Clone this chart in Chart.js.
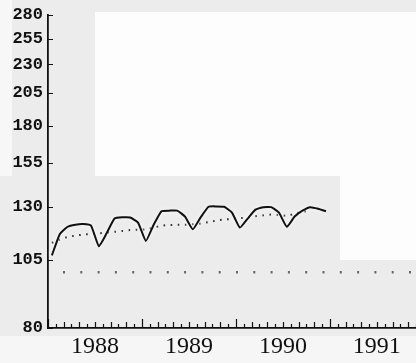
<!DOCTYPE html>
<html>
<head>
<meta charset="utf-8">
<script src="https://cdn.jsdelivr.net/npm/chart.js@4/dist/chart.umd.min.js"></script>
<style>
  html, body { margin: 0; padding: 0; overflow: hidden; }
  #wrap { position: relative; width: 416px; height: 363px; background: #ececec; }
  .patch { position: absolute; }
  #chart { position: absolute; left: 0; top: 0; }
</style>
</head>
<body>
<div id="wrap">
  <!-- scan shading behind the chart -->
  <div class="patch" style="left:0;top:0;width:12px;height:176px;background:#f7f7f7"></div>
  <div class="patch" style="left:95px;top:12px;width:321px;height:164px;background:#fdfdfd"></div>
  <div class="patch" style="left:340px;top:12px;width:76px;height:248px;background:#fdfdfd"></div>
  <div class="patch" style="left:0;top:336px;width:416px;height:27px;background:#f6f6f6"></div>
  <canvas id="chart" width="416" height="363"></canvas>
</div>
<script>
// x axis: months from Jan 1988, years labelled in the middle of each year
let years = ['1988', '1989', '1990', '1991'];
let monthsShown = 47;

// monthly index, Jan 1988 .. Dec 1990
let actual = [107, 116.5, 120, 121, 121.3, 120.5, 111, 117, 124, 124.6, 124.5, 122,
              113.4, 121, 127.7, 128, 128, 125, 118.8, 124.6, 130, 130.2, 130, 127,
              119.6, 124, 128.5, 129.8, 129.8, 127, 120, 125, 128, 129.8, 129, 127.7];

// trend line
let trend = [112.5, 114, 115.2, 115.8, 116.3, 116.6, 116.9, 117.2, 117.6, 118, 118.4, 118.6,
             118.8, 119.6, 120.5, 120.8, 121, 121, 121.2, 121.6, 122.3, 123, 123.5, 123.8,
             124.2, 124.6, 125.2, 125.6, 126, 125.8, 125.4, 126.4, 127.4, 128];

let baseLevel = 100;
let yTicks = [80, 105, 130, 155, 180, 205, 230, 255, 280];

function toPoints(values) {
    return values.map((v, i) => ({ x: i + 0.5, y: v }));
}

// white halo round the lines, like the scanned original
let haloPlugin = {
    id: 'halo',
    beforeDatasetDraw(chart) {
        let ctx = chart.ctx;
        ctx.save();
        ctx.shadowColor = 'rgba(255,255,255,0.95)';
        ctx.shadowBlur = 4;
    },
    afterDatasetDraw(chart) {
        chart.ctx.restore();
    }
};

// ticks drawn on the inside of both axes
let innerTicks = {
    id: 'innerTicks',
    afterDraw(chart) {
        let ctx = chart.ctx;
        let xs = chart.scales.x;
        let ys = chart.scales.y;
        let bottom = chart.chartArea.bottom;
        let left = chart.chartArea.left;
        ctx.save();
        ctx.strokeStyle = '#111';
        ctx.lineWidth = 1.2;
        ctx.beginPath();
        for (let m = 0; m <= monthsShown; m++) {
            let px = Math.round(xs.getPixelForValue(m)) + 0.5;
            let len = m % 12 == 0 ? 9 : (m % 2 == 0 ? 6 : 4);
            ctx.moveTo(px, bottom);
            ctx.lineTo(px, bottom - len);
        }
        yTicks.forEach(v => {
            let py = Math.round(ys.getPixelForValue(v)) + 0.5;
            ctx.moveTo(left, py);
            ctx.lineTo(left + 5, py);
        });
        ctx.stroke();
        ctx.restore();
    }
};

let ctx = document.getElementById('chart').getContext('2d');
let chart = new Chart(ctx, {
    type: 'line',
    data: {
        datasets: [{
            data: toPoints(actual),
            borderColor: '#111',
            borderWidth: 2,
            pointRadius: 0,
            tension: 0.15
        }, {
            data: toPoints(trend),
            borderColor: '#333',
            borderWidth: 2,
            borderDash: [1.6, 5.5],
            pointRadius: 0,
            tension: 0.3
        }, {
            data: [{ x: 0, y: baseLevel }, { x: monthsShown, y: baseLevel }],
            borderColor: '#666',
            borderWidth: 2.4,
            borderDash: [2, 15.3],
            borderDashOffset: 2.3,
            pointRadius: 0
        }]
    },
    options: {
        responsive: false,
        animation: false,
        layout: { padding: { top: 12, right: 0, left: 0, bottom: 0 } },
        plugins: {
            legend: { display: false },
            tooltip: { enabled: false }
        },
        scales: {
            x: {
                type: 'linear',
                min: 0,
                max: monthsShown,
                grid: { display: false, drawTicks: false },
                border: { display: true, color: '#111', width: 1.8 },
                afterBuildTicks: (scale) => {
                    scale.ticks = years.map((y, i) => ({ value: i * 12 + 6 }));
                },
                afterFit: (scale) => { scale.height = 35; },
                ticks: {
                    autoSkip: false,
                    maxRotation: 0,
                    padding: 4,
                    color: '#111',
                    font: { family: 'Liberation Serif', size: 24 },
                    callback: (v) => years[Math.round((v - 6) / 12)]
                }
            },
            y: {
                type: 'logarithmic',
                min: 80,
                max: 280,
                grid: { display: false, drawTicks: false },
                border: { display: true, color: '#111', width: 1.8 },
                afterBuildTicks: (scale) => {
                    scale.ticks = yTicks.map(v => ({ value: v }));
                },
                afterFit: (scale) => { scale.width = 48; },
                ticks: {
                    autoSkip: false,
                    padding: 5,
                    color: '#111',
                    font: { family: 'Liberation Mono', size: 17, weight: 'bold' },
                    callback: (v) => String(v)
                }
            }
        }
    },
    plugins: [haloPlugin, innerTicks]
});
</script>
</body>
</html>
